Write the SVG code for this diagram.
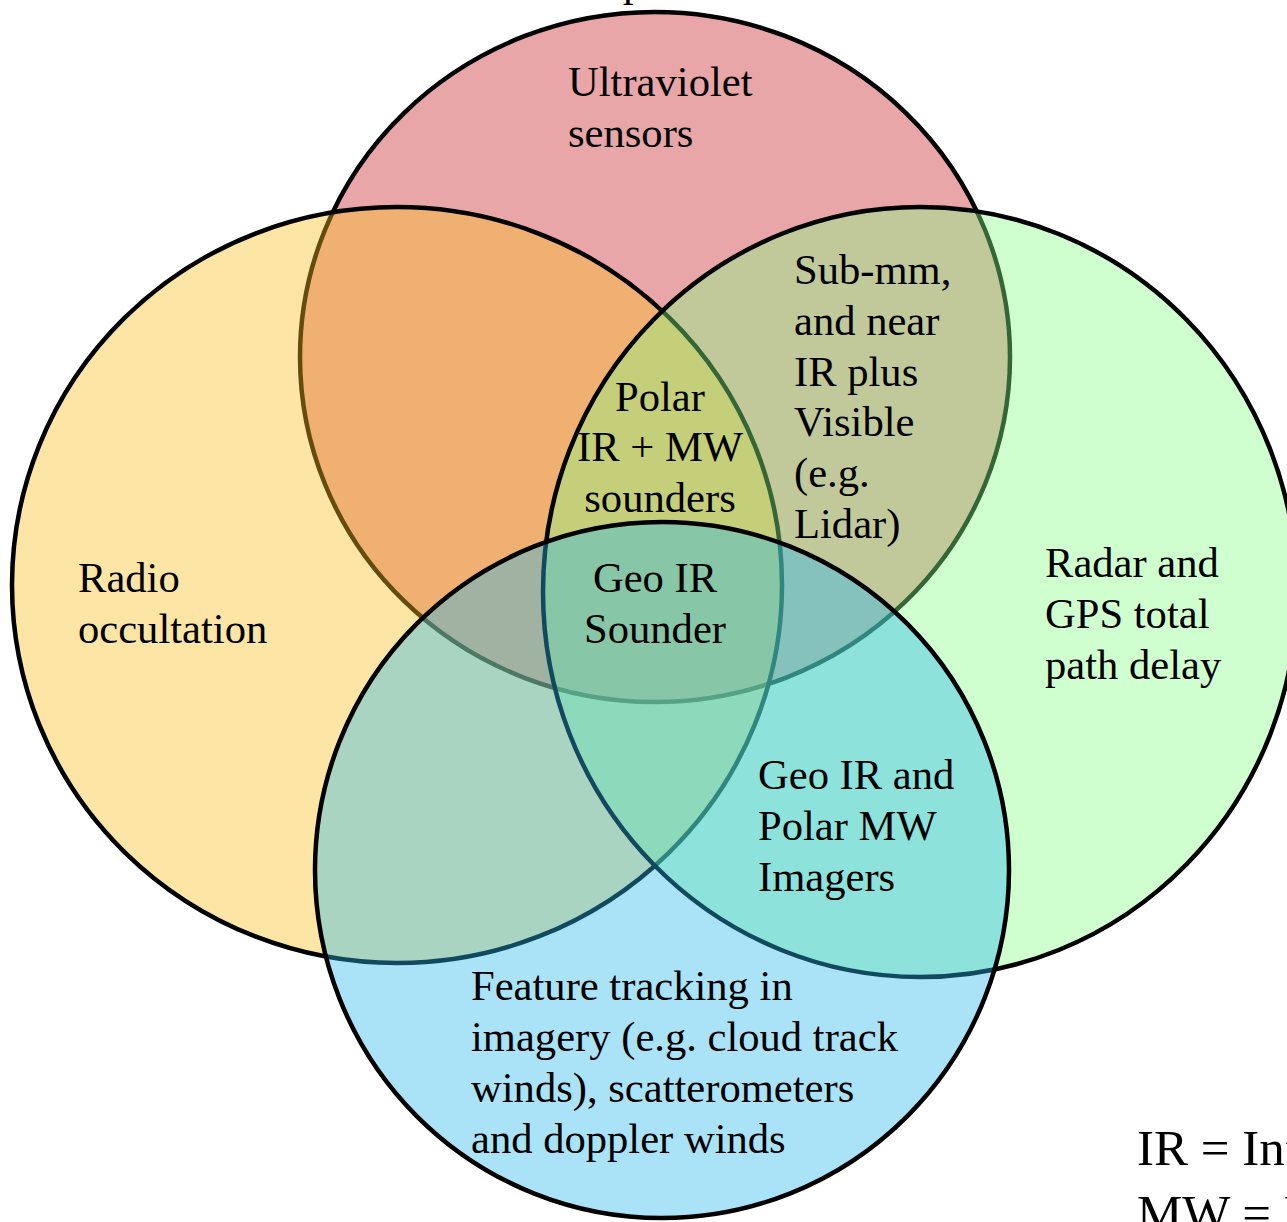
<svg xmlns="http://www.w3.org/2000/svg" width="1287" height="1222" viewBox="0 0 1287 1222">
<style>
.c{stroke:#000;stroke-width:4.5;fill-opacity:0.4}
text{font-family:"Liberation Serif","Times New Roman",serif;font-size:42.6px;fill:#000}
.m{text-anchor:middle}
.lg{font-size:51px}
</style>
<rect width="1287" height="1222" fill="#fff"/>
<text x="623" y="-4" font-size="44">p</text>
<g id="uv"><ellipse class="c" cx="655" cy="357" rx="355" ry="345" fill="#c52025"/></g>
<g id="radio"><ellipse class="c" cx="397" cy="585" rx="385" ry="378" fill="#fac01e"/></g>
<g id="radar"><ellipse class="c" cx="920" cy="592" rx="377" ry="385" fill="#87ff87"/></g>
<g id="feature"><ellipse class="c" cx="662" cy="870" rx="347" ry="348" fill="#2ab9ed"/></g>
<g id="labels">
<text x="568" y="96">Ultraviolet</text>
<text x="568" y="147">sensors</text>
<text x="794" y="284">Sub-mm,</text>
<text x="794" y="335">and near</text>
<text x="794" y="386">IR plus</text>
<text x="794" y="436">Visible</text>
<text x="794" y="487">(e.g.</text>
<text x="794" y="538">Lidar)</text>
<text class="m" x="660" y="411">Polar</text>
<text class="m" x="660" y="461">IR + MW</text>
<text class="m" x="660" y="512">sounders</text>
<text x="78" y="592">Radio</text>
<text x="78" y="643">occultation</text>
<text class="m" x="655" y="592">Geo IR</text>
<text class="m" x="655" y="643">Sounder</text>
<text x="1045" y="577">Radar and</text>
<text x="1045" y="628">GPS total</text>
<text x="1045" y="679">path delay</text>
<text x="758" y="789">Geo IR and</text>
<text x="758" y="840">Polar MW</text>
<text x="758" y="891">Imagers</text>
<text x="471" y="1000">Feature tracking in</text>
<text x="471" y="1051">imagery (e.g. cloud track</text>
<text x="471" y="1102">winds), scatterometers</text>
<text x="471" y="1153">and doppler winds</text>
<text class="lg" x="1137" y="1165">IR = Infrared</text>
<text class="lg" x="1137" y="1230">MW = Microwave</text>
</g>
</svg>
